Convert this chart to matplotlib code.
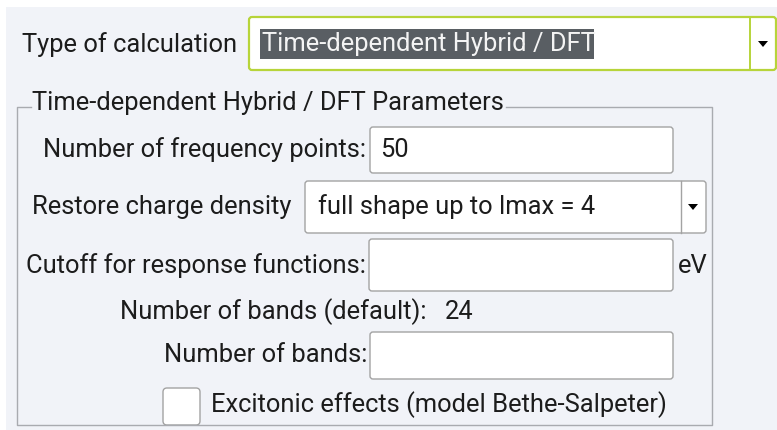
import matplotlib
matplotlib.use("Agg")
import matplotlib.pyplot as plt
from matplotlib.patches import Rectangle, FancyBboxPatch, Polygon

plt.rcParams['font.family'] = ['Roboto', 'DejaVu Sans']

# texts of the dialog
calc_label = "Type of calculation"
calc_value = "Time-dependent Hybrid / DFT"
group_title = "Time-dependent Hybrid / DFT Parameters"
field_labels = ["Number of frequency points:", "Restore charge density",
                "Cutoff for response functions:", "Number of bands:"]
field_values = ["50", "full shape up to lmax = 4", "", ""]
default_label = "Number of bands (default):"
default_value = "24"
unit_label = "eV"
check_label = "Excitonic effects (model Bethe-Salpeter)"

BG = "#f1f3f8"
BORDER = "#a3a3a3"
TXT = "#1c1c1c"
FS = 18.4

fig = plt.figure(figsize=(7.77, 4.30), dpi=100)
ax = fig.add_axes([0, 0, 1, 1])
ax.set_xlim(0, 777)
ax.set_ylim(430, 0)
ax.axis("off")
fig.patch.set_facecolor("white")

ax.add_patch(Rectangle((6, 7), 771, 423, facecolor=BG, edgecolor="none"))


def entry(x0, x1, y0, y1, ec=BORDER, lw=1.0):
    ax.add_patch(FancyBboxPatch((x0, y0), x1 - x0, y1 - y0,
                                boxstyle="round,pad=0,rounding_size=3",
                                facecolor="white", edgecolor=ec, linewidth=lw))


def arrow(cx, cy):
    ax.add_patch(Polygon([(cx - 5, cy - 3), (cx + 5, cy - 3), (cx, cy + 3)],
                         closed=True, facecolor="black", edgecolor="none"))


# type of calculation combobox
ax.text(22, 45, calc_label, fontsize=FS, color=TXT, va="center")
entry(249, 776, 17, 70, ec="#b7d43a", lw=1.6)
ax.plot([750, 750], [18, 69], color="#b7d43a", lw=1.4)
arrow(763, 44)
ax.add_patch(Rectangle((260, 29), 334, 30, facecolor="#595e63", edgecolor="none"))
ax.text(262, 44, calc_value, fontsize=FS, color="#f4f4f4", va="center")

# group box
gx0, gx1, gy0, gy1 = 17, 712, 107, 425
ax.text(32, 103, group_title, fontsize=FS, color=TXT, va="center")
ax.plot([gx0 + 14, gx0, gx0, gx1, gx1, 506],
        [gy0, gy0, gy1, gy1, gy0, gy0], color="#a9abb0", lw=1.0)

# number of frequency points
ax.text(366, 150, field_labels[0], fontsize=FS, color=TXT, va="center", ha="right")
entry(370, 673, 127, 173)
ax.text(380, 150, field_values[0], fontsize=FS, color=TXT, va="center")

# restore charge density combobox
ax.text(32, 207, field_labels[1], fontsize=FS, color=TXT, va="center")
entry(305, 706, 181, 233)
ax.plot([681, 681], [181, 233], color=BORDER, lw=1.0)
arrow(693, 207)
ax.text(318, 207, field_values[1], fontsize=FS, color=TXT, va="center")

# cutoff
ax.text(366, 266, field_labels[2], fontsize=FS, color=TXT, va="center", ha="right")
entry(369, 673, 239, 291)
ax.text(678, 266, unit_label, fontsize=FS, color=TXT, va="center")

# default number of bands
ax.text(120, 312, default_label, fontsize=FS, color=TXT, va="center")
ax.text(445, 312, default_value, fontsize=FS, color=TXT, va="center")

# number of bands
ax.text(367, 355, field_labels[3], fontsize=FS, color=TXT, va="center", ha="right")
entry(370, 673, 332, 379)

# checkbox
ax.add_patch(FancyBboxPatch((163, 388), 37, 37,
                            boxstyle="round,pad=0,rounding_size=4",
                            facecolor="white", edgecolor=BORDER, linewidth=1.0))
ax.text(211, 405, check_label, fontsize=FS, color=TXT, va="center")

fig.savefig("out.png", dpi=100, facecolor="white")
